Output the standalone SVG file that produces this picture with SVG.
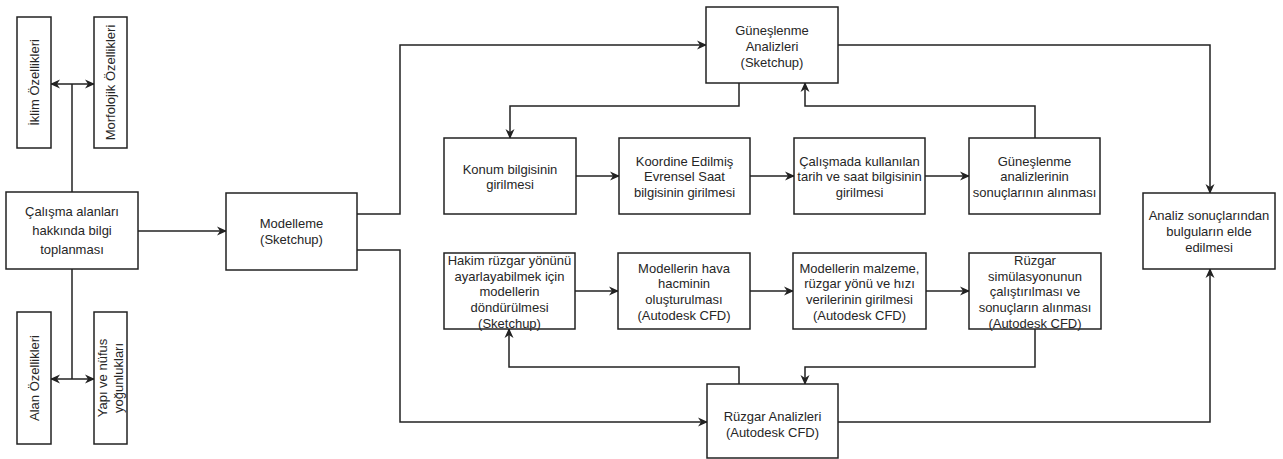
<svg xmlns="http://www.w3.org/2000/svg" width="1283" height="459" viewBox="0 0 1283 459">
<style>
.box{fill:#fff;stroke:#222;stroke-width:1.5}
.t{font-family:"Liberation Sans",Arial,sans-serif;font-size:13px;fill:#262626;text-anchor:middle}
.c{fill:none;stroke:#222;stroke-width:1.5}
</style>
<defs>
<marker id="a" viewBox="0 0 10 10" refX="9" refY="5" markerWidth="10" markerHeight="10" markerUnits="userSpaceOnUse" orient="auto-start-reverse">
<path d="M0,0.5 L10,5 L0,9.5 L3,5 Z" fill="#222"/>
</marker>
</defs>
<rect width="1283" height="459" fill="#fff"/>
<g id="connectors">
<path class="c" d="M72,84 V192"/>
<path class="c" d="M51,84 H94" marker-start="url(#a)" marker-end="url(#a)"/>
<path class="c" d="M72,269 V379"/>
<path class="c" d="M51,379 H94" marker-start="url(#a)" marker-end="url(#a)"/>
<path class="c" d="M138,231 H226" marker-end="url(#a)"/>
<path class="c" d="M357,214 H400 V45 H706" marker-end="url(#a)"/>
<path class="c" d="M357,250 H400 V422 H707" marker-end="url(#a)"/>
<path class="c" d="M739,83 V106 H510 V138" marker-end="url(#a)"/>
<path class="c" d="M576,176 H619" marker-end="url(#a)"/>
<path class="c" d="M750,176 H794" marker-end="url(#a)"/>
<path class="c" d="M925,176 H969" marker-end="url(#a)"/>
<path class="c" d="M1035,138 V106 H805 V83" marker-end="url(#a)"/>
<path class="c" d="M838,45 H1210 V193" marker-end="url(#a)"/>
<path class="c" d="M739,384 V367 H509 V329" marker-end="url(#a)"/>
<path class="c" d="M575,291 H618" marker-end="url(#a)"/>
<path class="c" d="M750,291 H793" marker-end="url(#a)"/>
<path class="c" d="M926,291 H969" marker-end="url(#a)"/>
<path class="c" d="M1035,329 V367 H805 V384" marker-end="url(#a)"/>
<path class="c" d="M838,422 H1210 V269" marker-end="url(#a)"/>
</g>
<g id="iklim"><rect class="box" x="17" y="17" width="34" height="131"/>
<text class="t" transform="translate(38.5,82.5) rotate(-90)">İklim Özellikleri</text></g>
<g id="morfolojik"><rect class="box" x="94" y="17" width="33" height="131"/>
<text class="t" transform="translate(115,82.5) rotate(-90)">Morfolojik Özellikleri</text></g>
<g id="calisma"><rect class="box" x="6" y="192" width="132" height="77"/>
<text class="t" x="72" y="216">Çalışma alanları</text>
<text class="t" x="72" y="235">hakkında bilgi</text>
<text class="t" x="72" y="254">toplanması</text></g>
<g id="alan"><rect class="box" x="17" y="312" width="34" height="132"/>
<text class="t" transform="translate(38.5,378) rotate(-90)">Alan Özellikleri</text></g>
<g id="yapi"><rect class="box" x="94" y="312" width="33" height="132"/>
<text class="t" transform="translate(107,378) rotate(-90)">Yapı ve nüfus</text>
<text class="t" transform="translate(123,378) rotate(-90)">yoğunlukları</text></g>
<g id="modelleme"><rect class="box" x="226" y="193" width="131" height="77"/>
<text class="t" x="291.5" y="228">Modelleme</text>
<text class="t" x="291.5" y="244">(Sketchup)</text></g>
<g id="gunes"><rect class="box" x="706" y="7" width="132" height="76"/>
<text class="t" x="772" y="35">Güneşlenme</text>
<text class="t" x="772" y="51">Analizleri</text>
<text class="t" x="772" y="67">(Sketchup)</text></g>
<g id="konum"><rect class="box" x="444" y="138" width="132" height="76"/>
<text class="t" x="510" y="174">Konum bilgisinin</text>
<text class="t" x="510" y="189">girilmesi</text></g>
<g id="koordine"><rect class="box" x="619" y="138" width="131" height="76"/>
<text class="t" x="684.5" y="166">Koordine Edilmiş</text>
<text class="t" x="684.5" y="181">Evrensel Saat</text>
<text class="t" x="684.5" y="197">bilgisinin girilmesi</text></g>
<g id="calismada"><rect class="box" x="794" y="138" width="131" height="76"/>
<text class="t" x="859.5" y="166">Çalışmada kullanılan</text>
<text class="t" x="859.5" y="181">tarih ve saat bilgisinin</text>
<text class="t" x="859.5" y="197">girilmesi</text></g>
<g id="gunesanaliz"><rect class="box" x="969" y="138" width="131" height="76"/>
<text class="t" x="1034.5" y="166">Güneşlenme</text>
<text class="t" x="1034.5" y="181">analizlerinin</text>
<text class="t" x="1034.5" y="197">sonuçlarının alınması</text></g>
<g id="analiz"><rect class="box" x="1143" y="193" width="132" height="76"/>
<text class="t" x="1209" y="220">Analiz sonuçlarından</text>
<text class="t" x="1209" y="236">bulguların elde</text>
<text class="t" x="1209" y="252">edilmesi</text></g>
<g id="hakim"><rect class="box" x="444" y="253" width="131" height="76"/>
<text class="t" x="509.5" y="265">Hakim rüzgar yönünü</text>
<text class="t" x="509.5" y="281">ayarlayabilmek için</text>
<text class="t" x="509.5" y="296">modellerin</text>
<text class="t" x="509.5" y="312">döndürülmesi</text>
<text class="t" x="509.5" y="328">(Sketchup)</text></g>
<g id="hava"><rect class="box" x="618" y="253" width="132" height="76"/>
<text class="t" x="684" y="273">Modellerin hava</text>
<text class="t" x="684" y="288">hacminin</text>
<text class="t" x="684" y="304">oluşturulması</text>
<text class="t" x="684" y="320">(Autodesk CFD)</text></g>
<g id="malzeme"><rect class="box" x="793" y="253" width="133" height="76"/>
<text class="t" x="859.5" y="273">Modellerin malzeme,</text>
<text class="t" x="859.5" y="288">rüzgar yönü ve hızı</text>
<text class="t" x="859.5" y="304">verilerinin girilmesi</text>
<text class="t" x="859.5" y="320">(Autodesk CFD)</text></g>
<g id="simulasyon"><rect class="box" x="969" y="253" width="132" height="76"/>
<text class="t" x="1035" y="265">Rüzgar</text>
<text class="t" x="1035" y="281">simülasyonunun</text>
<text class="t" x="1035" y="296">çalıştırılması ve</text>
<text class="t" x="1035" y="312">sonuçların alınması</text>
<text class="t" x="1035" y="328">(Autodesk CFD)</text></g>
<g id="ruzgar"><rect class="box" x="707" y="384" width="131" height="74"/>
<text class="t" x="772.5" y="421">Rüzgar Analizleri</text>
<text class="t" x="772.5" y="437">(Autodesk CFD)</text></g>
</svg>
